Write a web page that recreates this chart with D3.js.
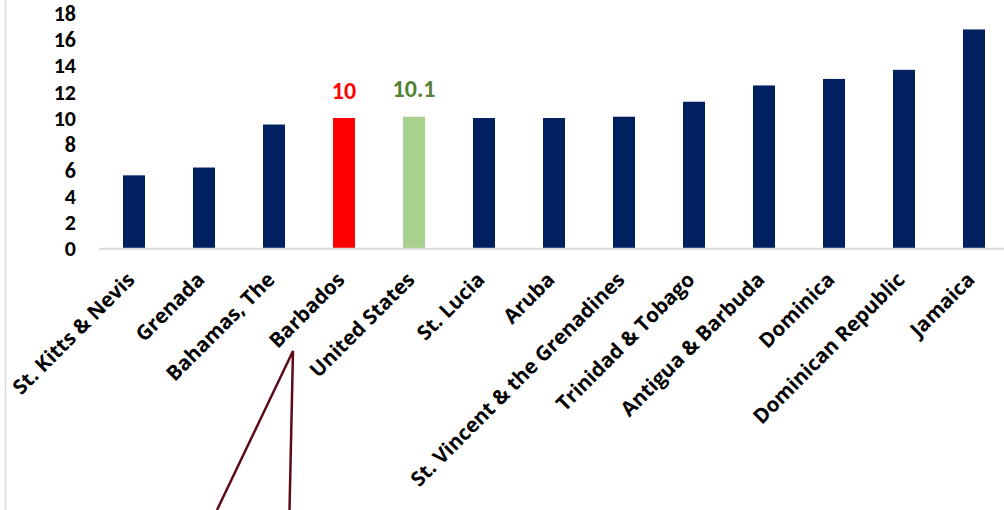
<!DOCTYPE html>
<html>
<head>
<meta charset="utf-8">
<script src="https://cdn.jsdelivr.net/npm/d3@7"></script>
<style>
    body { margin: 0; background: #fff; }
    svg { display: block; }
</style>
</head>
<body>
<script>
// chart data
var countries = ["St. Kitts & Nevis", "Grenada", "Bahamas, The", "Barbados",
    "United States", "St. Lucia", "Aruba", "St. Vincent & the Grenadines",
    "Trinidad & Tobago", "Antigua & Barbuda", "Dominica",
    "Dominican Republic", "Jamaica"];
var values = [5.6, 6.2, 9.5, 10, 10.1, 10.0, 10.0, 10.1, 11.25, 12.5, 13.0,
    13.7, 16.8];
var yTicks = [0, 2, 4, 6, 8, 10, 12, 14, 16, 18];
var highlight = {"Barbados": "#ff0000", "United States": "#a9d18e"};
var labelColor = {"Barbados": "#ff0000", "United States": "#538135"};

var data = countries.map(function(c, i) { return {key: c, value: values[i]}; });

var W = 1004, H = 510;
var svg = d3.select("body").append("svg")
    .attr("width", W)
    .attr("height", H);

// outer frame line on the left
svg.append("line")
    .attr("x1", 5.5).attr("x2", 5.5)
    .attr("y1", 0).attr("y2", H)
    .attr("stroke", "#d9d9d9")
    .attr("stroke-width", 1.5);

var xScale = d3.scaleBand()
    .domain(countries)
    .range([99, 1009])
    .paddingInner(0.686)
    .paddingOuter(0.343);

var yScale = d3.scaleLinear().domain([0, 18]).range([248.3, 13.8]);

// y axis labels only, no line
var yAxis = d3.axisLeft(yScale).tickValues(yTicks).tickSize(0).tickPadding(0);
var gy = svg.append("g")
    .attr("transform", "translate(76,0)")
    .call(yAxis);
gy.select(".domain").remove();
gy.selectAll("text")
    .attr("font-family", "Carlito, 'Open Sans', sans-serif")
    .attr("font-weight", "bold")
    .attr("font-size", "22px")
    .attr("fill", "#000");

// bars
svg.selectAll("rect.bar")
    .data(data)
    .enter()
    .append("rect")
    .attr("class", "bar")
    .attr("x", function(d) { return xScale(d.key); })
    .attr("y", function(d) { return yScale(d.value); })
    .attr("width", xScale.bandwidth())
    .attr("height", function(d) { return yScale(0) - yScale(d.value); })
    .attr("fill", function(d) { return highlight[d.key] || "#002060"; });

// baseline
svg.append("line")
    .attr("x1", 99).attr("x2", W)
    .attr("y1", yScale(0) + 0.5).attr("y2", yScale(0) + 0.5)
    .attr("stroke", "#d9d9d9")
    .attr("stroke-width", 2);

// value labels on the two highlighted bars
svg.selectAll("text.val")
    .data(data.filter(function(d) { return labelColor[d.key]; }))
    .enter()
    .append("text")
    .attr("class", "val")
    .attr("x", function(d) { return xScale(d.key) + xScale.bandwidth() / 2; })
    .attr("y", function(d) { return yScale(d.value) - 19.5; })
    .attr("text-anchor", "middle")
    .attr("font-family", "Carlito, 'Open Sans', sans-serif")
    .attr("font-weight", "bold")
    .attr("font-size", "24px")
    .attr("fill", function(d) { return labelColor[d.key]; })
    .text(function(d) { return d.value; });

// category labels, rotated
svg.selectAll("text.cat")
    .data(countries)
    .enter()
    .append("text")
    .attr("class", "cat")
    .attr("text-anchor", "end")
    .attr("font-family", "'Open Sans', sans-serif")
    .attr("font-weight", "bold")
    .attr("font-size", "20.5px")
    .attr("fill", "#000")
    .attr("transform", function(c) {
        var cx = xScale(c) + xScale.bandwidth() / 2;
        return "translate(" + (cx + 2) + ",281) rotate(-45)";
    })
    .text(function(c) { return c; });

// callout lines below Barbados
var bx = xScale("Barbados") + xScale.bandwidth() / 2;
svg.append("path")
    .attr("d", "M" + (bx - 127) + "," + H + " L" + (bx - 51) + ",351 L" +
        (bx - 54.5) + "," + H)
    .attr("fill", "none")
    .attr("stroke", "#5c0b16")
    .attr("stroke-width", 2.5);
</script>
</body>
</html>
